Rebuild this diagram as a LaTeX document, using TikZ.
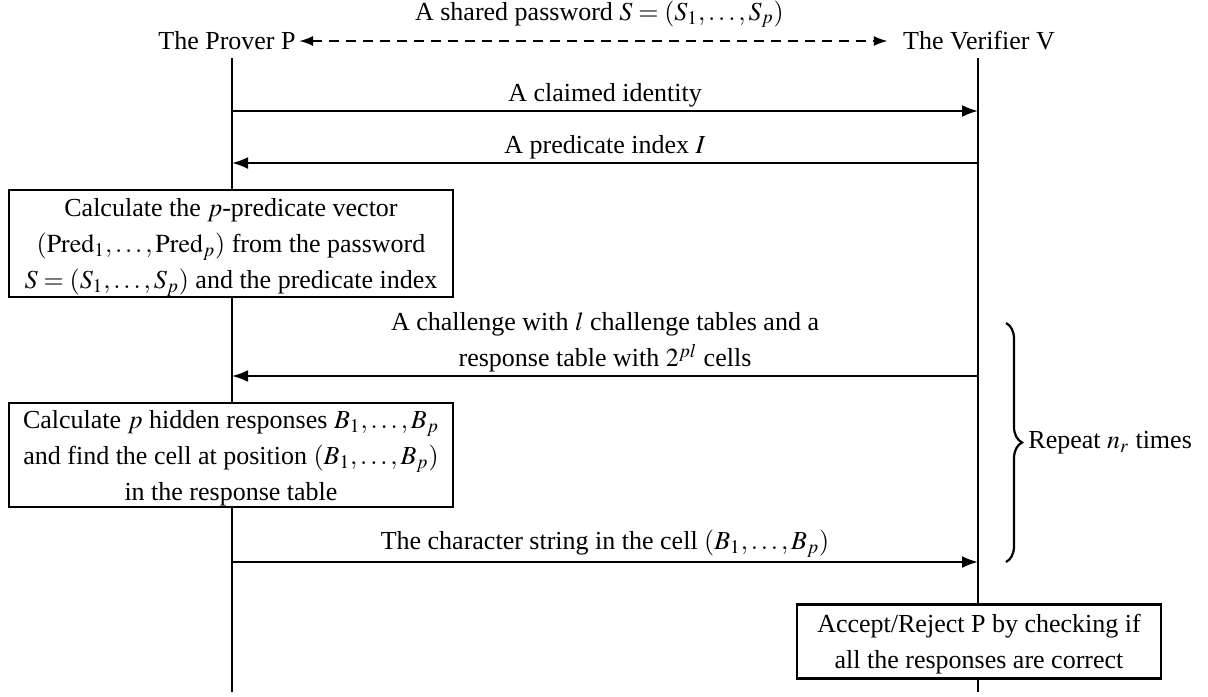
\documentclass[tikz,border=0pt]{standalone}
\usepackage{mathptmx}
\usepackage{fontspec}
\setmainfont{Liberation Serif}
\usetikzlibrary{arrows.meta,decorations.pathreplacing}
\begin{document}
\begin{tikzpicture}[x=0.5pt,y=-0.5pt,
  font=\fontsize{13}{18}\selectfont,
  life/.style={line width=1.4pt},
  msg/.style={line width=1.1pt,-{Latex[length=8pt,width=6pt]}},
  share/.style={line width=1.1pt,dash pattern=on 5pt off 3.5pt,{Latex[length=7pt,width=5pt]}-{Latex[length=7pt,width=5pt]}},
  actbox/.style={draw,line width=1.4pt,inner sep=0pt},
  party/.style={inner sep=1.5pt},
  lbl/.style={inner sep=0pt,align=center}]
\useasboundingbox (0,0) rectangle (1208,696);

% parties
\node[party] (P) at (227,41) {The Prover P};
\node[party] (V) at (979,41) {The Verifier V};
\draw[share,shorten >=6pt] (P.east) -- (V.west) node[lbl,midway,above=6pt] (sh) {A shared password $S=(S_1,\ldots,S_p)$};

% activity boxes
\node[actbox,minimum width=444*0.5pt,minimum height=107*0.5pt] (b1) at (231,243.5) {};
\node[lbl] (t1) at (231,247)
  {Calculate the $p$-predicate vector\\ $(\mathrm{Pred}_1,\ldots,\mathrm{Pred}_p)$ from the password\\ $S=(S_1,\ldots,S_p)$ and the predicate index};
\node[actbox,minimum width=444*0.5pt,minimum height=104*0.5pt] (b2) at (231,455) {};
\node[lbl] (t2) at (231,458)
  {Calculate $p$ hidden responses $B_1,\ldots,B_p$\\ and find the cell at position $(B_1,\ldots,B_p)$\\ in the response table};
\node[actbox,minimum width=364*0.5pt,minimum height=74*0.5pt] (b3) at (979,641.5) {};
\node[lbl] (t3) at (979,644.5)
  {Accept/Reject P by checking if\\ all the responses are correct};

% lifelines
\coordinate (Ptop) at (232,58);
\coordinate (Pbot) at (232,692);
\coordinate (Vtop) at (978,58);
\coordinate (Vbot) at (978,692);
\draw[life] (Ptop) -- (b1.north -| Ptop);
\draw[life] (b1.south -| Ptop) -- (b2.north -| Ptop);
\draw[life] (b2.south -| Ptop) -- (Pbot);
\draw[life] (Vtop) -- (b3.north -| Vtop);
\draw[life] (b3.south -| Vtop) -- (Vbot);

% messages
\coordinate (P1) at (232,111); \coordinate (V1) at (978,111);
\coordinate (P2) at (232,163); \coordinate (V2) at (978,163);
\coordinate (P3) at (232,376); \coordinate (V3) at (978,376);
\coordinate (P4) at (232,562); \coordinate (V4) at (978,562);
\draw[msg] (P1) -- (V1) node[lbl,midway,above=1.2pt] (m1) {A claimed identity};
\draw[msg] (V2) -- (P2) node[lbl,midway,above=1.2pt] (m2) {A predicate index $I$};
\draw[msg] (V3) -- (P3) node[lbl,midway,above=1.2pt] (m3) {A challenge with $l$ challenge tables and a\\ response table with $2^{pl}$ cells};
\draw[msg] (P4) -- (V4) node[lbl,midway,above=1.6pt] (m4) {The character string in the cell $(B_1,\ldots,B_p)$};

% repeat brace
\coordinate (r1) at (1006,323);
\coordinate (r2) at (1006,562);
\draw[line width=1.1pt,decorate,decoration={brace,amplitude=8pt}] (r1) -- (r2);
\node[anchor=west,inner sep=0pt] (rep) at (1028,443) {Repeat $n_r$ times};
\end{tikzpicture}
\end{document}
